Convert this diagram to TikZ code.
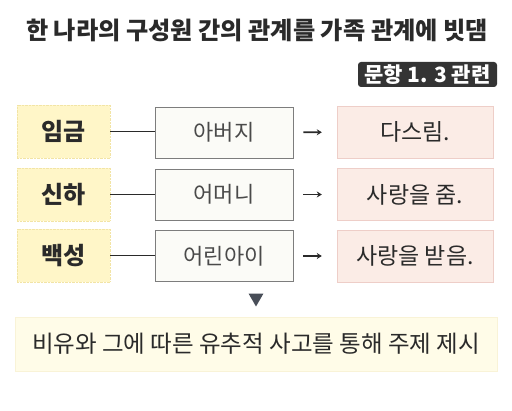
\documentclass[tikz,border=0pt]{standalone}
\usepackage{fontspec}
\setmainfont{Noto Sans CJK KR}
\usepackage{xcolor}
\usepackage{tikz}
\usetikzlibrary{arrows.meta,positioning,shapes.geometric}
\definecolor{kink}{RGB}{42,42,42}
\definecolor{kdark}{RGB}{52,52,52}
\definecolor{kyel}{RGB}{255,246,200}
\definecolor{kyeld}{RGB}{242,228,165}
\definecolor{kpink}{RGB}{251,236,230}
\definecolor{kpinkd}{RGB}{238,206,200}
\definecolor{kwhite}{RGB}{251,251,247}
\definecolor{kgray}{RGB}{125,125,125}
\definecolor{kpale}{RGB}{255,252,232}
\definecolor{ktri}{RGB}{72,78,88}
\tikzset{
  role/.style  ={rectangle, fill=kyel, draw=kyeld, densely dotted,
                 minimum width=93pt, minimum height=53pt, text=kink,
                 font=\fontsize{24}{28}\selectfont\bfseries},
  fam/.style   ={rectangle, fill=kwhite, draw=kgray, semithick,
                 minimum width=138pt, minimum height=51pt, text=kink!85,
                 font=\fontsize{22}{26}\selectfont},
  act/.style   ={rectangle, fill=kpink, draw=kpinkd,
                 minimum width=156pt, minimum height=52pt, text=kink,
                 font=\fontsize{23}{27}\selectfont},
  link/.style  ={draw=kink, semithick},
  ar/.style    ={-{Stealth[length=5pt,width=6pt]}, draw=kink, line width=1.6pt,
                 shorten <=10pt, shorten >=15pt}
}
\begin{document}
\begin{tikzpicture}[x=1pt,y=-1pt]
\useasboundingbox[fill=white] (0,0) rectangle (512,411);
\node[text=kink, font=\fontsize{24.2}{28}\selectfont\bfseries] (title) at (257,30)
  {한 나라의 구성원 간의 관계를 가족 관계에 빗댐};
\node[rectangle, rounded corners=3pt, fill=kdark, text=white,
  minimum width=139pt, minimum height=25pt, inner sep=0pt,
  font=\fontsize{21}{24}\selectfont\bfseries] (badge) at (427.5,74.5)
  {문항 1. 3 관련};

\node[role] (king) at (63.5,131.5) {임금};
\node[role] (subj) at (63.5,194.5) {신하};
\node[role] (folk) at (63.5,255.5) {백성};

\node[fam] (father) at (224,132.5) {아버지};
\node[fam] (mother) at (224,194.5) {어머니};
\node[fam] (child)  at (224,256) {어린아이};

\node[act] (rule)  at (415,132) {다스림.};
\node[act] (give)  at (415,194.5) {사랑을 줌.};
\node[act] (take)  at (415,256) {사랑을 받음.};

\draw[link] (king) -- (king -| father.west);
\draw[link] (subj) -- (subj -| mother.west);
\draw[link] (folk) -- (folk -| child.west);
\draw[ar] (father) -- (rule);
\draw[ar] (mother) -- (give);
\draw[ar] (child) -- (take);

\node[regular polygon, regular polygon sides=3, shape border rotate=180,
  fill=ktri, inner sep=0pt, minimum size=17pt] (down) at (256,298) {};
\node[rectangle, fill=kpale, draw=kyeld!45, minimum width=482pt,
  minimum height=54pt, text=kink, font=\fontsize{23.5}{27}\selectfont,
  below=10pt of down] (theme) {비유와 그에 따른 유추적 사고를 통해 주제 제시};
\end{tikzpicture}
\end{document}
